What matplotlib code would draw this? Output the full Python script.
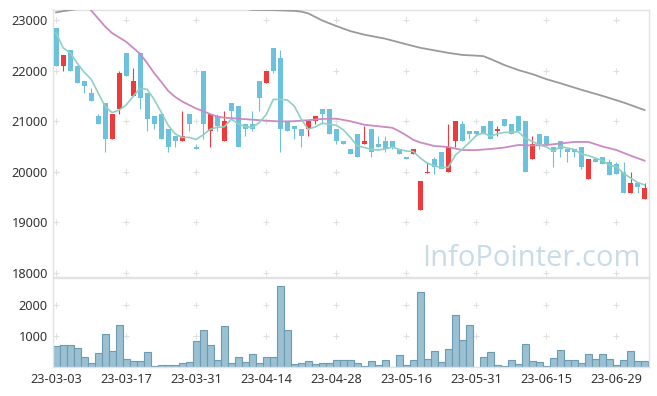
import matplotlib
matplotlib.use("Agg")
import matplotlib.pyplot as plt

# daily candles, 85 trading days (23-03-03 .. 23-07-04)
opens = [22850, 22100, 22400, 22100, 21800, 21550, 21100, 21350, 20650, 21250,
         22350, 21500, 22350, 21550, 21100, 21150, 20850, 20700, 20600, 21150,
         20500, 22000, 20800, 21100, 20600, 21350, 21300, 20950, 20950, 21800,
         21750, 22450, 22250, 21000, 20900, 20850, 20850, 21000, 21250, 21250,
         20850, 20600, 20450, 20750, 20550, 20850, 20550, 20600, 20600, 20450,
         20300, 20350, 19240, 19970, 20250, 20400, 19990, 20600, 20950, 20800,
         20800, 20900, 21000, 20800, 21050, 20950, 21100, 21000, 20250, 20750,
         20700, 20500, 20600, 20450, 20450, 20500, 19850, 20250, 20300, 20200,
         20150, 20000, 19590, 19780, 19460]
highs = [22850, 22300, 22400, 22100, 21800, 21650, 21150, 21350, 21150, 22000,
         22350, 22050, 22350, 21550, 21100, 21150, 20850, 20700, 21200, 21150,
         20550, 22000, 21150, 21150, 21200, 21350, 21300, 20950, 21200, 21800,
         22000, 22450, 22400, 21000, 20900, 20850, 21000, 21100, 21250, 21250,
         20850, 20600, 20450, 20750, 20900, 20850, 20700, 20700, 20600, 20450,
         20300, 20450, 19810, 20200, 20300, 20400, 20950, 21000, 21000, 20800,
         20800, 20900, 21000, 20900, 21050, 20950, 21100, 21000, 20700, 20750,
         20700, 20500, 20600, 20450, 20450, 20500, 20250, 20250, 20300, 20250,
         20200, 20200, 20000, 19780, 19780]
lows = [22100, 22000, 22000, 21750, 21550, 21400, 20950, 20400, 20650, 21150,
        21900, 21500, 21250, 20800, 20850, 20650, 20400, 20500, 20600, 20800,
        20450, 20650, 20500, 20800, 20600, 21050, 20500, 20700, 20800, 21200,
        21750, 21950, 20400, 20800, 20650, 20500, 20700, 20950, 20950, 20750,
        20550, 20550, 20350, 20300, 20550, 20300, 20500, 20400, 20450, 20350,
        20250, 20350, 19240, 19970, 19950, 20050, 19990, 20500, 20600, 20650,
        20700, 20750, 20650, 20700, 20900, 20750, 20800, 20000, 20250, 20450,
        20550, 20100, 20300, 20200, 20300, 20050, 19850, 20200, 20150, 19940,
        19960, 19590, 19590, 19590, 19460]
closes = [22100, 22300, 22000, 21750, 21700, 21400, 20950, 20650, 21150, 21950,
          21900, 21800, 21450, 21050, 20950, 20650, 20500, 20600, 20700, 20950,
          20450, 20950, 21150, 20900, 21000, 21200, 20500, 20850, 20850, 21450,
          22000, 22000, 20850, 20800, 20850, 20700, 21000, 21100, 21150, 20750,
          20600, 20550, 20350, 20300, 20600, 20400, 20500, 20450, 20500, 20350,
          20250, 20450, 19810, 20000, 20100, 20050, 20500, 21000, 20600, 20750,
          20750, 20750, 20650, 20850, 20900, 20750, 20800, 20000, 20550, 20550,
          20550, 20400, 20450, 20400, 20400, 20100, 20250, 20200, 20150, 19940,
          19960, 19590, 19780, 19690, 19680]
volumes = [680, 710, 710, 610, 320, 130, 450, 1060, 520, 1360,
           260, 190, 190, 480, 30, 60, 60, 60, 130, 160,
           840, 1190, 710, 230, 1320, 130, 320, 160, 420, 130,
           320, 320, 2620, 1190, 100, 130, 190, 100, 130, 130,
           240, 240, 240, 130, 30, 200, 80, 240, 0, 400,
           80, 240, 2420, 270, 530, 170, 590, 1690, 880, 1370,
           0, 330, 500, 80, 40, 240, 110, 750, 200, 170,
           40, 300, 560, 240, 240, 140, 420, 270, 420, 270,
           80, 240, 530, 200, 200]

# moving averages
ma5 = [22750, 22450, 22350, 22150, 21970, 21830, 21560, 21290, 21170, 21220,
       21320, 21490, 21650, 21630, 21430, 21180, 20920, 20750, 20680, 20680,
       20640, 20730, 20840, 20880, 20890, 21040, 20950, 20890, 20880, 20970,
       21130, 21430, 21430, 21420, 21300, 21040, 20840, 20890, 20960, 20940,
       20920, 20830, 20680, 20510, 20480, 20440, 20430, 20450, 20490, 20440,
       20410, 20400, 20270, 20170, 20120, 20080, 20090, 20330, 20450, 20580,
       20720, 20770, 20700, 20750, 20780, 20780, 20790, 20660, 20600, 20530,
       20490, 20410, 20500, 20470, 20440, 20350, 20320, 20270, 20220, 20130,
       20100, 19970, 19880, 19790, 19740]
ma20_x = [4, 5, 6, 7, 8, 10, 12, 13, 14, 15, 16, 17, 18, 19, 20, 21, 22, 23, 24,
          26, 28, 30, 32, 34, 36, 38, 40, 42, 44, 46, 48, 49, 50, 51, 52, 54,
          56, 58, 60, 62, 64, 66, 68, 70, 72, 74, 76, 78, 80, 82, 84]
ma20 = [23330, 23190, 23030, 22870, 22740, 22570, 22330, 22150, 21950, 21780,
        21600, 21480, 21390, 21320, 21250, 21200, 21140, 21090, 21070,
        21050, 21030, 21010, 20995, 21000, 21020, 21045, 21050, 21000, 20930,
        20900, 20870, 20800, 20720, 20630, 20580, 20510,
        20490, 20430, 20430, 20450, 20480, 20530, 20520, 20530, 20560, 20590,
        20590, 20500, 20430, 20320, 20220]
ma60_x = [0, 1, 2, 3, 6, 12, 20, 26, 28, 31, 34, 35, 36, 37, 38, 40, 42, 44,
          47, 50, 52, 54, 56, 58, 60, 61, 62, 63, 64, 66, 68, 70, 72, 75, 78,
          81, 84]
ma60 = [23150, 23175, 23195, 23215, 23260, 23300, 23290, 23240, 23200, 23195,
        23180, 23165, 23130, 23060, 22990, 22880, 22780, 22710,
        22630, 22520, 22450, 22400, 22350, 22310, 22295, 22285, 22230, 22170,
        22110, 22010, 21930, 21830, 21750, 21620, 21500, 21370, 21220]

tick_pos = [0, 10, 20, 30, 40, 50, 60, 70, 80]
tick_labels = ["23-03-03", "23-03-17", "23-03-31", "23-04-14", "23-04-28",
               "23-05-16", "23-05-31", "23-06-15", "23-06-29"]
price_ticks = [18000, 19000, 20000, 21000, 22000, 23000]
vol_ticks = [1000, 2000]

UP = "#ee3a3a"
DOWN = "#6cc2dc"
FRAME = "#e2e2e2"
GRID = "#e0e0e0"
TXT = "#333333"

plt.rcParams["font.family"] = ["Noto Sans", "DejaVu Sans"]

fig = plt.figure(figsize=(6.57, 3.96), dpi=100)
ax = fig.add_axes([0.0811, 0.2997, 0.9063, 0.6750])
axv = fig.add_axes([0.0811, 0.0725, 0.9063, 0.2247], sharex=ax)

idx = list(range(len(closes)))

# grid crosses
for y in price_ticks:
    ax.plot(tick_pos, [y] * len(tick_pos), linestyle="none", marker="+",
            color=GRID, markersize=4.5, mew=0.8, zorder=0)
for y in vol_ticks:
    axv.plot(tick_pos, [y] * len(tick_pos), linestyle="none", marker="+",
             color=GRID, markersize=4.5, mew=0.8, zorder=0)

ax.text(0.619, 0.042, "InfoPointer.com", transform=ax.transAxes,
        fontsize=21, color="#c9dbe7", ha="left", va="baseline",
        family=["Open Sans", "DejaVu Sans"], zorder=1)

# candles
for i in idx:
    o, h, l, c = opens[i], highs[i], lows[i], closes[i]
    col = UP if c > o else DOWN
    ax.vlines(i, l, h, color=col, linewidth=0.8, zorder=3)
    body = max(abs(c - o), 12)
    ax.bar(i, body, bottom=min(o, c), width=0.72, color=col,
           linewidth=0, zorder=4)

ax.plot(ma60_x, ma60, color="#9a9a9a", linewidth=1.3, zorder=5)
ax.plot(ma20_x, ma20, color="#c98ac6", linewidth=1.3, zorder=5)
ax.plot(idx, ma5, color="#8fd0c4", linewidth=1.2, zorder=5)

axv.bar(idx, volumes, width=1.0, color="#9ac0d2", edgecolor="#6c9bb4",
        linewidth=0.8, zorder=2)

ax.set_xlim(-0.4, 84.6)
ax.set_ylim(17915, 23197)
axv.set_ylim(0, 2870)

ax.set_yticks(price_ticks)
ax.set_yticklabels([str(v) for v in price_ticks])
axv.set_yticks(vol_ticks)
axv.set_yticklabels([str(v) for v in vol_ticks])
axv.set_xticks(tick_pos)
axv.set_xticklabels(tick_labels)
ax.tick_params(axis="x", labelbottom=False, length=0)

for a in (ax, axv):
    for s in a.spines.values():
        s.set_color(FRAME)
        s.set_linewidth(1)
    a.tick_params(length=0, labelsize=9.2, colors=TXT, pad=4)

fig.savefig("out.png", dpi=100)
